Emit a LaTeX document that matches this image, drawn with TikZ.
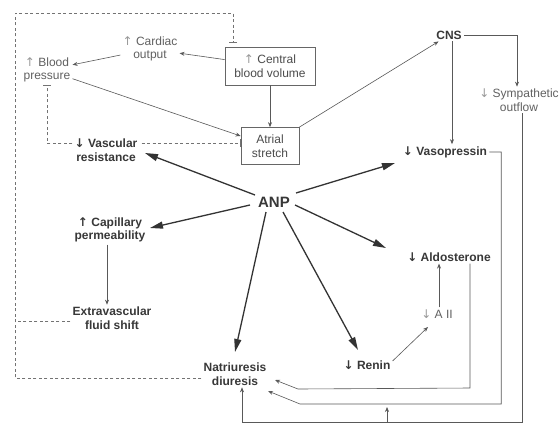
\documentclass[tikz,border=0pt]{standalone}
\usepackage{fontspec}
\setmainfont{Liberation Sans}
\newfontfamily\symf{DejaVu Sans}
\usetikzlibrary{arrows.meta,calc}
\begin{document}
\begin{tikzpicture}[x=1pt,y=-1pt,
 lbl/.style={font=\fontsize{12}{13.5}\selectfont, align=center, text=black!62, inner sep=2pt},
 blbl/.style={font=\bfseries\fontsize{12}{13.5}\selectfont, align=center, text=black!78, inner sep=2pt},
 boxn/.style={lbl, draw=black!60, line width=0.7pt, text=black!70},
 thinarr/.style={draw=black!65, line width=0.6pt, -{Stealth[length=5pt,width=4pt]}},
 plainln/.style={draw=black!65, line width=0.6pt},
 bigarr/.style={draw=black!80, line width=1.3pt, -{Triangle[length=13pt,width=7pt]}},
 inh/.style={draw=black!55, line width=0.6pt, dash pattern=on 3pt off 2.5pt},
 inhbar/.style={inh, -{Bar[width=8pt,line width=0.6pt]}},
]
\fill[white] (0,0) rectangle (559,426);
\useasboundingbox (0,0) rectangle (559,426);

% nodes
\node[lbl] (bp) at (47,70) {{\symf\color{black!40}↑} Blood\\pressure};
\node[lbl] (co) at (150,49) {{\symf\color{black!40}↑} Cardiac\\output};
\node[boxn, minimum width=90pt, minimum height=38pt] (cbv) at (270,66) {{\symf\color{black!40}↑} Central\\blood volume};
\node[boxn, minimum width=58pt, minimum height=37pt] (as) at (270,146) {Atrial\\stretch};
\node[blbl] (cns) at (449,35) {CNS};
\node[lbl] (symp) at (519,100) {{\symf\color{black!40}↓} Sympathetic\\outflow};
\node[blbl] (vaso) at (445,152) {{\symf ↓} Vasopressin};
\node[blbl] (vr) at (106,150) {{\symf ↓} Vascular\\resistance};
\node[blbl, font=\bfseries\fontsize{15}{17}\selectfont] (anp) at (274,202) {ANP};
\node[blbl] (cp) at (110,230) {{\symf ↑} Capillary\\permeability};
\node[blbl] (ev) at (112,318) {Extravascular\\fluid shift};
\node[blbl] (nat) at (235,374) {Natriuresis\\diuresis};
\node[blbl] (renin) at (367,365) {{\symf ↓} Renin};
\node[lbl] (aii) at (437,314) {{\symf\color{black!40}↓} A II};
\node[blbl] (aldo) at (449,257) {{\symf ↓} Aldosterone};

\coordinate (L) at (15,0);
\coordinate (T) at (0,13);
\coordinate (bot) at (0,422);

% thin connectors
\draw[thinarr] (cbv) -- (co);
\draw[thinarr] (co) -- (bp);
\draw[thinarr] (bp) -- (as);
\draw[thinarr] (cbv.south) -- (as.north);
\draw[thinarr] (as.north east) -- (cns);
\coordinate (cnsd) at ($(cns.south)+(3,0)$);
\draw[thinarr] (cnsd) -- (cnsd |- vaso.north);
\coordinate (sympn) at ($(symp.north)+(-2,0)$);
\draw[thinarr] (cns.east) -| (sympn);
\coordinate (cpx) at ($(cp.south)+(-3,0)$);
\draw[thinarr] (cpx) -- (cpx |- ev.north);
\draw[thinarr] ($(renin.east)+(0,-4)$) -- ($(aii)+(-9,13)$);
\coordinate (aiin) at ($(aii.north)+(2,0)$);
\draw[thinarr] (aiin) -- (aiin |- aldo.south);

% long return lines to natriuresis
\coordinate (sy) at ($(symp.south)+(3,0)$);
\coordinate (natb) at ($(nat.south)+(7,0)$);
\draw[thinarr] (sy) -- (sy |- bot) -| (natb);
\draw[thinarr] (vaso.east) -- ++(12,0) coordinate (vk) -- (vk |- 0,404) -- (300,404) -- ($(nat)+(33,17)$);
\coordinate (al) at ($(aldo.south)+(21,0)$);
\draw[thinarr] (al) -- (al |- 0,388) -- (298,389) -- ($(nat)+(40,6)$);
\draw[thinarr] (387,422) -- (387,407);

% ANP arrows
\draw[bigarr] ($(anp)+(-19,-7)$) -- ($(vr)+(39,3)$);
\draw[bigarr] ($(anp)+(22,-9)$) -- ($(vaso)+(-50,11)$);
\draw[bigarr] ($(anp)+(-24,3)$) -- ($(cp)+(40,-2)$);
\draw[bigarr] ($(anp)+(21,3)$) -- ($(aldo)+(-63,-9)$);
\draw[bigarr] ($(anp)+(-8,10)$) -- ($(nat)+(0,-22)$);
\draw[bigarr] ($(anp)+(9,10)$) -- ($(renin)+(-9,-15)$);

% inhibitory dashed
\coordinate (nw) at ($(nat.west)+(0,4)$);
\draw[inhbar] (nw) -- (nw -| L) -- (L |- T) -- (233,13) -- (233,43);
\draw[inh] ($(ev.west)+(0,3)$) -- (15,321);
\draw[inhbar] ($(vr.west)+(0,-7)$) -| (bp.south);
\draw[inhbar] ($(vr.east)+(2,-7)$) -- ($(as.west)+(0,-3)$);
\end{tikzpicture}
\end{document}
